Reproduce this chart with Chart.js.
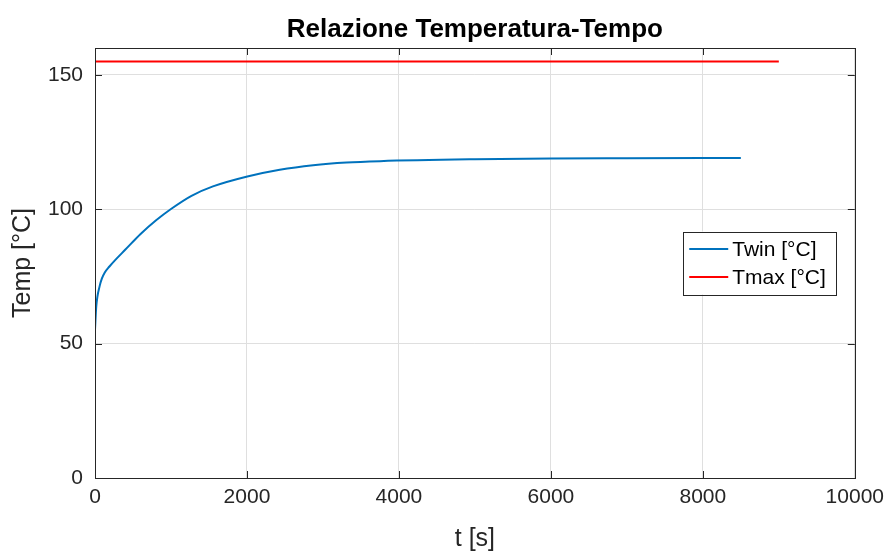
<!DOCTYPE html>
<html lang="it">
<head>
<meta charset="UTF-8">
<title>Relazione Temperatura-Tempo</title>
<script src="https://cdn.jsdelivr.net/npm/chart.js"></script>
<style>
    body { margin: 0; background: #fff; }
</style>
</head>
<body>
<canvas id="myChart" width="891" height="554"></canvas>
<script>
    // Twin curve, values
    const tWin = [0, 17, 61, 90, 127, 190, 259, 400, 600, 800, 1000, 1270, 1552, 2005, 2431, 2871, 3311, 3751, 5000, 6000, 7000, 8500];
    const twin = [55.2, 63.9, 71.4, 74.2, 76.4, 78.7, 80.9, 85.0, 90.8, 95.8, 100.1, 105.0, 108.5, 112.2, 114.7, 116.4, 117.4, 117.9, 118.6, 118.9, 119.0, 119.1];
    // Tmax constant line
    const tMax = [0, 9000];
    const tmax = [155, 155];

    const xTicks = [0, 2000, 4000, 6000, 8000, 10000];
    const yTicks = [0, 50, 100, 150];
    const seriesLabels = ['Twin [°C]', 'Tmax [°C]'];
    const seriesColors = ['#0072BD', '#FF0000'];

    const FONT = '"Liberation Sans", Arial, Helvetica, sans-serif';
    const TEXT = '#262626';

    // box around the axes, inward ticks and the legend inside the plot
    const matlabAxes = {
        id: 'matlabAxes',
        afterDatasetsDraw(chart) {
            const { ctx, chartArea: a, scales: { x, y } } = chart;
            ctx.save();
            ctx.strokeStyle = TEXT;
            ctx.lineWidth = 1;
            ctx.beginPath();
            xTicks.forEach(v => {
                const px = Math.round(x.getPixelForValue(v)) + 0.5;
                ctx.moveTo(px, a.bottom); ctx.lineTo(px, a.bottom - 7);
                ctx.moveTo(px, a.top); ctx.lineTo(px, a.top + 7);
            });
            yTicks.forEach(v => {
                const py = Math.round(y.getPixelForValue(v)) + 0.5;
                ctx.moveTo(a.left, py); ctx.lineTo(a.left + 7, py);
                ctx.moveTo(a.right, py); ctx.lineTo(a.right - 7, py);
            });
            ctx.stroke();
            ctx.strokeRect(Math.round(a.left) + 0.5, Math.round(a.top) + 0.5,
                Math.round(a.right - a.left), Math.round(a.bottom - a.top));

            // legend
            ctx.font = '21px ' + FONT;
            const labels = chart.data.datasets.map(d => d.label);
            const textW = Math.max(...labels.map(l => ctx.measureText(l).width));
            const lineLen = 39, rowH = 28;
            const w = 6 + lineLen + 4 + textW + 10;
            const h = rowH * labels.length + 7;
            const right = a.right - 19;
            const left = right - w;
            const top = (a.top + a.bottom) / 2 - h / 2;
            ctx.fillStyle = '#fff';
            ctx.fillRect(left, top, w, h);
            ctx.strokeStyle = TEXT;
            ctx.strokeRect(Math.round(left) + 0.5, Math.round(top) + 0.5, Math.round(w), Math.round(h));
            chart.data.datasets.forEach((d, i) => {
                const cy = top + 3.5 + rowH / 2 + i * rowH;
                ctx.strokeStyle = d.borderColor;
                ctx.lineWidth = 2;
                ctx.beginPath();
                ctx.moveTo(left + 6, cy);
                ctx.lineTo(left + 6 + lineLen, cy);
                ctx.stroke();
                ctx.fillStyle = '#000';
                ctx.textBaseline = 'middle';
                ctx.fillText(d.label, left + 6 + lineLen + 4, cy + 1);
            });
            ctx.restore();
        }
    };

    const data = {
        datasets: [
            {
                label: seriesLabels[0],
                data: tWin.map((t, i) => ({ x: t, y: twin[i] })),
                borderColor: seriesColors[0],
                borderWidth: 2,
                pointRadius: 0,
                cubicInterpolationMode: 'monotone',
                fill: false
            },
            {
                label: seriesLabels[1],
                data: tMax.map((t, i) => ({ x: t, y: tmax[i] })),
                borderColor: seriesColors[1],
                borderWidth: 2,
                pointRadius: 0,
                fill: false
            }
        ]
    };

    const config = {
        type: 'line',
        data: data,
        options: {
            responsive: false,
            animation: false,
            layout: { padding: { left: 0, right: 36, top: 0, bottom: 0 } },
            plugins: {
                legend: { display: false },
                tooltip: { enabled: false },
                title: {
                    display: true,
                    fullSize: false,
                    text: 'Relazione Temperatura-Tempo',
                    color: '#000',
                    font: { family: FONT, size: 26, weight: 'bold' },
                    padding: { top: 14, bottom: 2.8 }
                }
            },
            scales: {
                x: {
                    type: 'linear',
                    min: 0,
                    max: 10000,
                    afterBuildTicks: s => { s.ticks = xTicks.map(v => ({ value: v })); },
                    afterFit: s => { s.height = 76; },
                    grid: { color: '#dfdfdf', drawTicks: false },
                    border: { display: false },
                    ticks: {
                        color: TEXT,
                        padding: 7,
                        maxRotation: 0,
                        autoSkip: false,
                        font: { family: FONT, size: 21 },
                        callback: v => String(v)
                    },
                    title: {
                        display: true,
                        text: 't [s]',
                        color: TEXT,
                        font: { family: FONT, size: 25 },
                        padding: { top: 0, bottom: 0 }
                    }
                },
                y: {
                    type: 'linear',
                    min: 0,
                    max: 160,
                    afterBuildTicks: s => { s.ticks = yTicks.map(v => ({ value: v })); },
                    afterFit: s => { s.width = 95; },
                    grid: { color: '#dfdfdf', drawTicks: false },
                    border: { display: false },
                    ticks: {
                        color: TEXT,
                        padding: 12,
                        font: { family: FONT, size: 21 },
                        callback: v => String(v)
                    },
                    title: {
                        display: true,
                        text: 'Temp [°C]',
                        color: TEXT,
                        font: { family: FONT, size: 25 },
                        padding: { top: 8, bottom: 0 }
                    }
                }
            }
        },
        plugins: [matlabAxes]
    };

    const ctx = document.getElementById('myChart').getContext('2d');
    const myChart = new Chart(ctx, config);
</script>
</body>
</html>
